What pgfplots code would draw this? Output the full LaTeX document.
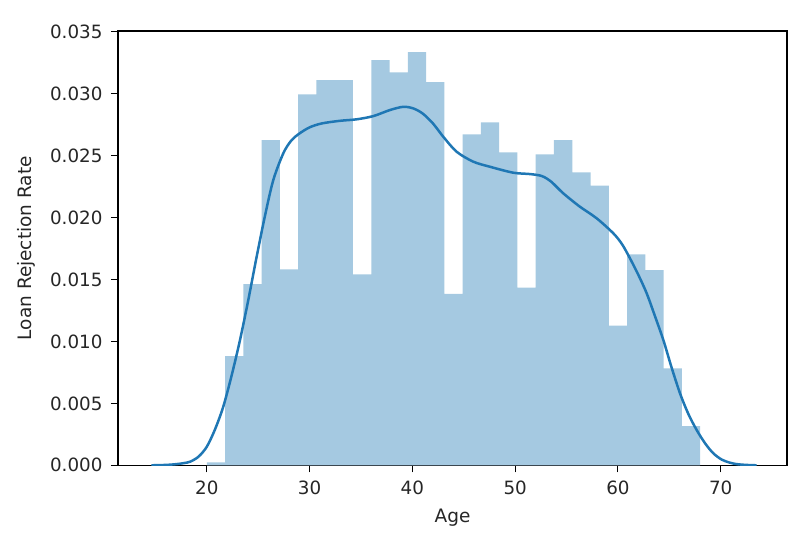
\documentclass[border=0pt]{standalone}
\usepackage{fontspec}
\setmainfont{DejaVu Sans}
\usepackage{pgfplots}
\pgfplotsset{compat=1.18}
\definecolor{cblue}{HTML}{1F77B4}
\definecolor{hfill}{HTML}{A5C9E1}
\begin{document}
\begin{tikzpicture}
\useasboundingbox (-118bp,-73.7bp) rectangle (682bp,465.3bp);
\begin{axis}[
  at={(0,0)}, anchor=south west,
  scale only axis, width=669bp, height=434.3bp,
  xmin=11.36, xmax=76.45, ymin=0, ymax=0.03506,
  xtick={20,30,40,50,60,70},
  ytick={0,0.005,0.010,0.015,0.020,0.025,0.030,0.035},
  scaled y ticks=false,
  /pgf/number format/assume math mode=true,
  tick align=outside, major tick length=7bp,
  tick style={black, line width=1.1bp},
  axis line style={line width=1.1bp},
  xtick pos=bottom, ytick pos=left,
  every tick label/.append style={font=\fontsize{18.3bp}{21bp}\selectfont, text=black!85},
  xticklabel style={yshift=-5bp},
  yticklabel style={xshift=-5bp, /pgf/number format/.cd, fixed, fixed zerofill, precision=3},
  label style={font=\fontsize{18.5bp}{22bp}\selectfont, text=black!85},
  xlabel={Age}, ylabel={Loan Rejection Rate},
  xlabel style={at={(axis description cs:0.5,0)}, anchor=base, yshift=-56.7bp},
  ylabel style={at={(axis description cs:0,0.5)}, anchor=base, yshift=86bp},
  clip=true,
]
\addplot[ybar interval, draw=none, fill=hfill] coordinates {
(20.0000,0.00024) (21.7778,0.00882) (23.5556,0.01463) (25.3333,0.02626)
(27.1111,0.01582) (28.8889,0.02995) (30.6667,0.03110) (32.4444,0.03110)
(34.2222,0.01542) (36.0000,0.03271) (37.7778,0.03172) (39.5556,0.03336)
(41.3333,0.03094) (43.1111,0.01383) (44.8889,0.02672) (46.6667,0.02769)
(48.4444,0.02526) (50.2222,0.01434) (52.0000,0.02510) (53.7778,0.02626)
(55.5556,0.02365) (57.3333,0.02257) (59.1111,0.01127) (60.8889,0.01703)
(62.6667,0.01576) (64.4444,0.00783) (66.2222,0.00317) (68.0000,0.00317)
};
\addplot[cblue, line width=2.5bp, smooth] coordinates {
(14.6,0.00000) (16.0,0.00003) (17.0,0.00009) (17.8,0.00018) (18.4,0.00030)
(19.2,0.00070) (20.0,0.00150) (20.8,0.00290) (21.6,0.00473) (22.4,0.00720)
(23.23,0.01011) (24.05,0.01340) (24.85,0.01684) (25.65,0.02010) (26.47,0.02303)
(27.44,0.02518) (28.2,0.02620) (28.95,0.02675) (30.0,0.02728) (31.2,0.02760)
(32.96,0.02781) (34.58,0.02793) (36.2,0.02819) (37.82,0.02868) (39.12,0.02894)
(40.09,0.02881) (41.0,0.02840) (42.0,0.02760) (43.01,0.02652) (44.31,0.02531)
(45.93,0.02451) (47.55,0.02410) (49.82,0.02362) (51.45,0.02351) (52.6,0.02335)
(53.5,0.02290) (54.69,0.02195) (56.31,0.02087) (57.93,0.01994) (59.55,0.01873)
(60.4,0.01785) (61.17,0.01671) (62.0,0.01535) (62.8,0.01388) (63.6,0.01205)
(64.42,0.01011) (65.2,0.00795) (66.04,0.00581) (66.85,0.00415) (67.66,0.00285)
(68.5,0.00175) (69.28,0.00097) (70.1,0.00046) (70.9,0.00021) (71.6,0.00009)
(72.5,0.00003) (73.5,0.00000)
};
\end{axis}
\end{tikzpicture}
\end{document}
